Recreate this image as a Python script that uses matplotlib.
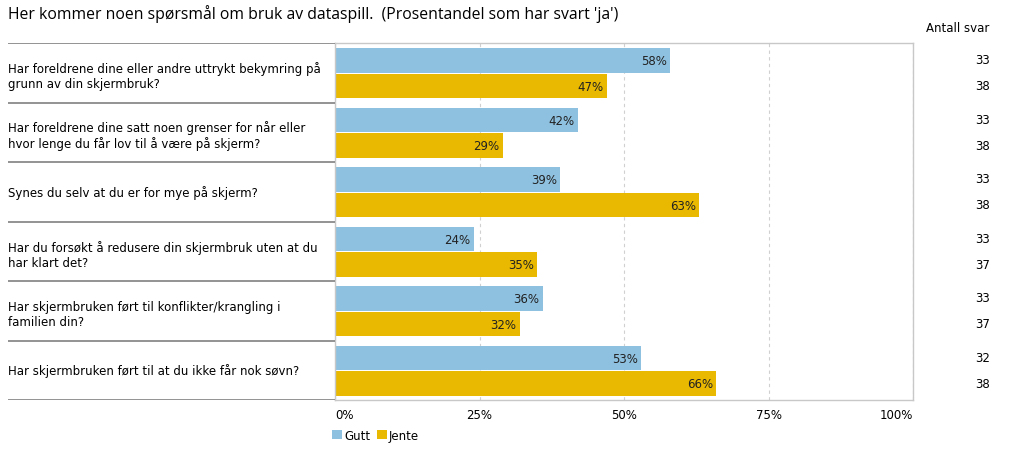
import matplotlib.pyplot as plt
import numpy as np

questions = [
    "Har foreldrene dine eller andre uttrykt bekymring på\ngrunn av din skjermbruk?",
    "Har foreldrene dine satt noen grenser for når eller\nhvor lenge du får lov til å være på skjerm?",
    "Synes du selv at du er for mye på skjerm?",
    "Har du forsøkt å redusere din skjermbruk uten at du\nhar klart det?",
    "Har skjermbruken ført til konflikter/krangling i\nfamilien din?",
    "Har skjermbruken ført til at du ikke får nok søvn?",
]
gutt = [58, 42, 39, 24, 36, 53]
jente = [47, 29, 63, 35, 32, 66]
n_gutt = [33, 33, 33, 33, 33, 32]
n_jente = [38, 38, 38, 37, 37, 38]

blue = '#8ec1e0'
yellow = '#e8b900'
W, H = 1023, 456
fs = 8.5

fig = plt.figure(figsize=(W / 100, H / 100), dpi=100)
plt.rcParams['font.family'] = 'DejaVu Sans'

top, bottom = 44, 401
ax = fig.add_axes([335 / W, (H - bottom) / H, (913 - 335) / W, (bottom - top) / H])
left = fig.add_axes([8 / W, (H - bottom) / H, (335 - 8) / W, (bottom - top) / H])

n = len(questions)
y = np.arange(n)
bh = 0.415
ax.barh(y + 0.295, gutt, height=bh, color=blue, label='Gutt')
ax.barh(y + 0.725, jente, height=bh, color=yellow, label='Jente')

for i in range(n):
    ax.text(gutt[i] - 0.6, i + 0.295, f'{gutt[i]}%', ha='right', va='center', fontsize=fs, color='#222222')
    ax.text(jente[i] - 0.6, i + 0.725, f'{jente[i]}%', ha='right', va='center', fontsize=fs, color='#222222')
    ax.text(1.133, i + 0.28, str(n_gutt[i]), transform=ax.get_yaxis_transform(), ha='right', va='center', fontsize=fs)
    ax.text(1.133, i + 0.72, str(n_jente[i]), transform=ax.get_yaxis_transform(), ha='right', va='center', fontsize=fs)

ax.set_xlim(0, 100)
ax.set_ylim(n, 0)
ax.set_yticks([])
ax.set_xticks([0, 25, 50, 75, 100])
ax.set_xticklabels(['0%', '25%', '50%', '75%', '100%'], fontsize=fs)
ticklabels = ax.get_xticklabels()
ticklabels[0].set_ha('left')
ticklabels[-1].set_ha('right')
ax.tick_params(axis='x', length=0, pad=6)
ax.grid(axis='x', linestyle=(0, (3, 3)), color='#d0d0d0', linewidth=0.8)
ax.set_axisbelow(True)
for s in ax.spines.values():
    s.set_color('#c8c8c8')
    s.set_linewidth(1)

ax.text(1.133, 1.025, 'Antall svar', transform=ax.transAxes, ha='right', va='bottom', fontsize=fs)

# left panel with questions
left.set_xlim(0, 1)
left.set_ylim(n, 0)
left.axis('off')
for i in range(n + 1):
    left.axhline(i, color='#808080', linewidth=1.2)
for i, q in enumerate(questions):
    yc = i + (0.55 if '\n' in q else 0.5)
    left.text(0.0, yc, q, ha='left', va='center', fontsize=fs, linespacing=1.2)

fig.text(8 / W, 1 - 14 / H, "Her kommer noen spørsmål om bruk av dataspill.  (Prosentandel som har svart 'ja')",
         ha='left', va='center', fontsize=11.3, family='Open Sans')

ax.legend(loc='upper left', bbox_to_anchor=(-0.005, -0.08), ncols=2, frameon=False, fontsize=fs,
          handlelength=0.85, handleheight=0.85, handletextpad=0.2, columnspacing=0.5, borderpad=0, borderaxespad=0)

plt.savefig('out.png', dpi=100)
